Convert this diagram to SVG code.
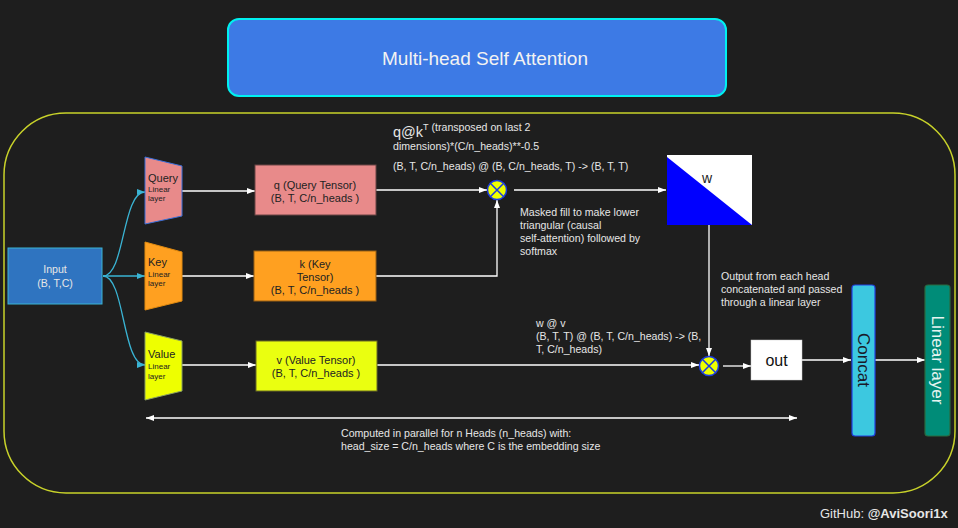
<svg xmlns="http://www.w3.org/2000/svg" width="958" height="528" viewBox="0 0 958 528">
<defs>
<marker id="aw" viewBox="0 0 8 6" refX="8" refY="3" markerWidth="8" markerHeight="6" markerUnits="userSpaceOnUse" orient="auto-start-reverse"><path d="M0,0 L8,3 L0,6 z" fill="#ffffff"/></marker>
<marker id="ac" viewBox="0 0 8 6" refX="8" refY="3" markerWidth="8" markerHeight="6" markerUnits="userSpaceOnUse" orient="auto"><path d="M0,0 L8,3 L0,6 z" fill="#3ab4d4"/></marker>
</defs>
<style>
text{font-family:"Liberation Sans",Arial,sans-serif;}
.lbl{fill:#e6e6e6;font-size:10.6px;}
.dk{fill:#222222;font-size:11px;}
.wl{stroke:#ffffff;stroke-width:1.3;fill:none;marker-end:url(#aw);}
.cl{stroke:#3ab4d4;stroke-width:1.3;fill:none;marker-end:url(#ac);}
.mul{fill:#eeff00;stroke:#1a3be0;stroke-width:1.5;}
</style>
<rect width="958" height="528" fill="#1e1e1e"/>
<rect x="4" y="113" width="951" height="380" rx="62" fill="none" stroke="#c8d22a" stroke-width="1.5"/>

<g id="title">
<rect x="228" y="19" width="498" height="77" rx="11" fill="#3d7ae5" stroke="#00f0f0" stroke-width="2"/>
<text x="485" y="65" text-anchor="middle" font-size="19" fill="#f2f2f2">Multi-head Self Attention</text>
</g>

<g id="connectors">
<path class="cl" d="M103,276 C125,276 122,192 145,192"/>
<path class="cl" d="M103,276 L145,276"/>
<path class="cl" d="M103,276 C125,276 122,365 145,365"/>
<path class="wl" d="M182,191 L255,191"/>
<path class="wl" d="M182,276 L254,276"/>
<path class="wl" d="M182,365 L256,365"/>
<path class="wl" d="M376,190 L487,190"/>
<path class="wl" d="M376,276 L497,276 L497,200"/>
<path class="wl" d="M514,190 L666,190"/>
<path class="wl" d="M709,225 L709,356"/>
<path class="wl" d="M377,365 L699,365"/>
<path class="wl" d="M723,366 L751,366"/>
<path class="wl" d="M802,360 L851,360"/>
<path class="wl" d="M875,360 L925,360"/>
<path class="wl" d="M146,418 L797,418" style="marker-start:url(#aw)"/>
</g>

<g id="input">
<rect x="8" y="248" width="94" height="56" fill="#2f74c0" stroke="#3ab4d4" stroke-width="1"/>
<text x="55" y="273" text-anchor="middle" class="lbl">Input</text>
<text x="55" y="287" text-anchor="middle" class="lbl">(B, T,C)</text>
</g>

<g id="query-linear">
<path d="M145,157 L182,166 L182,216 L145,224 z" fill="#e88a8a" stroke="#3a6fd8" stroke-width="1"/>
<text x="148" y="182" class="dk">Query</text>
<text x="148" y="192" class="dk" style="font-size:8px">Linear</text>
<text x="148" y="201" class="dk" style="font-size:8px">layer</text>
</g>

<g id="key-linear">
<path d="M145,242 L182,252 L182,301 L145,310 z" fill="#ffa020" stroke="#e08a10" stroke-width="1"/>
<text x="148" y="266" class="dk">Key</text>
<text x="148" y="277" class="dk" style="font-size:8px">Linear</text>
<text x="148" y="286" class="dk" style="font-size:8px">layer</text>
</g>

<g id="value-linear">
<path d="M145,332 L182,341 L182,391 L145,400 z" fill="#eeff00" stroke="#8aa060" stroke-width="1"/>
<text x="148" y="358" class="dk">Value</text>
<text x="148" y="369" class="dk" style="font-size:8px">Linear</text>
<text x="148" y="379" class="dk" style="font-size:8px">layer</text>
</g>

<g id="q-tensor">
<rect x="255" y="165" width="121" height="50" fill="#e88a8a" stroke="#6a4444" stroke-width="1"/>
<text x="315" y="189" text-anchor="middle" class="dk">q (Query Tensor)</text>
<text x="315" y="202" text-anchor="middle" class="dk">(B, T, C/n_heads )</text>
</g>

<g id="k-tensor">
<rect x="254" y="251" width="122" height="50" fill="#ffa020" stroke="#9a6014" stroke-width="1"/>
<text x="315" y="268" text-anchor="middle" class="dk">k (Key</text>
<text x="315" y="281" text-anchor="middle" class="dk">Tensor)</text>
<text x="315" y="294" text-anchor="middle" class="dk">(B, T, C/n_heads )</text>
</g>

<g id="v-tensor">
<rect x="256" y="341" width="121" height="50" fill="#eaff10" stroke="#6a6a24" stroke-width="1"/>
<text x="316" y="364" text-anchor="middle" class="dk">v (Value Tensor)</text>
<text x="316" y="377" text-anchor="middle" class="dk">(B, T, C/n_heads )</text>
</g>

<g id="mul-qk">
<circle class="mul" cx="497" cy="190" r="9.5"/>
<path d="M490.3,183.3 L503.7,196.7 M503.7,183.3 L490.3,196.7" stroke="#1a3be0" stroke-width="1.5"/>
</g>

<g id="qk-label">
<text x="393" y="137" class="lbl" style="font-size:14.5px">q@k<tspan y="130" style="font-size:9px">T</tspan><tspan y="131" style="font-size:10.6px"> (transposed on last 2</tspan></text>
<text x="393" y="150" class="lbl">dimensions)*(C/n_heads)**-0.5</text>
<text x="393" y="170" class="lbl">(B, T, C/n_heads) @ (B, C/n_heads, T) -&gt; (B, T, T)</text>
</g>

<g id="w">
<rect x="667" y="155" width="85" height="70" fill="#ffffff"/>
<path d="M667,157 L752,225 L667,225 z" fill="#0000ff"/>
<text x="707" y="183" text-anchor="middle" font-size="14" fill="#222222">w</text>
</g>

<g id="mask-label">
<text x="520" y="216" class="lbl">Masked fill to make lower</text>
<text x="520" y="229" class="lbl">triangular (causal</text>
<text x="520" y="242" class="lbl">self-attention) followed by</text>
<text x="520" y="255" class="lbl">softmax</text>
</g>

<g id="mul-wv">
<circle class="mul" cx="709" cy="366" r="9.5"/>
<path d="M702.3,359.3 L715.7,372.7 M715.7,359.3 L702.3,372.7" stroke="#1a3be0" stroke-width="1.5"/>
</g>

<g id="wv-label">
<text x="536" y="327" class="lbl">w @ v</text>
<text x="536" y="340" class="lbl">(B, T, T) @ (B, T, C/n_heads) -&gt; (B,</text>
<text x="536" y="353" class="lbl">T, C/n_heads)</text>
</g>

<g id="out">
<rect x="751" y="340" width="51" height="40" fill="#ffffff" stroke="#cccccc" stroke-width="0.5"/>
<text x="776.5" y="366" text-anchor="middle" font-size="16" fill="#111111">out</text>
</g>

<g id="output-label">
<text x="721" y="280" class="lbl">Output from each head</text>
<text x="721" y="293" class="lbl">concatenated and passed</text>
<text x="721" y="306" class="lbl">through a linear layer</text>
</g>

<g id="concat">
<rect x="852" y="285" width="23" height="151" rx="3" fill="#3cc8e0" stroke="#2040e0" stroke-width="1.2"/>
<text x="0" y="0" transform="translate(857.5,360) rotate(90)" text-anchor="middle" font-size="17" fill="#1a1a2a">Concat</text>
</g>

<g id="linear-layer">
<rect x="925" y="285" width="25" height="151" rx="3" fill="#008c78" stroke="#2a6a40" stroke-width="1.2"/>
<text x="0" y="0" transform="translate(931.5,360) rotate(90)" text-anchor="middle" font-size="17" fill="#e6f4f0">Linear layer</text>
</g>

<g id="parallel-label">
<text x="341" y="437" class="lbl">Computed in parallel for n Heads (n_heads) with:</text>
<text x="341" y="450" class="lbl">head_size = C/n_heads where C is the embedding size</text>
</g>

<text x="820" y="518" font-size="13" fill="#e6e6e6">GitHub: <tspan font-weight="bold">@AviSoori1x</tspan></text>
</svg>
